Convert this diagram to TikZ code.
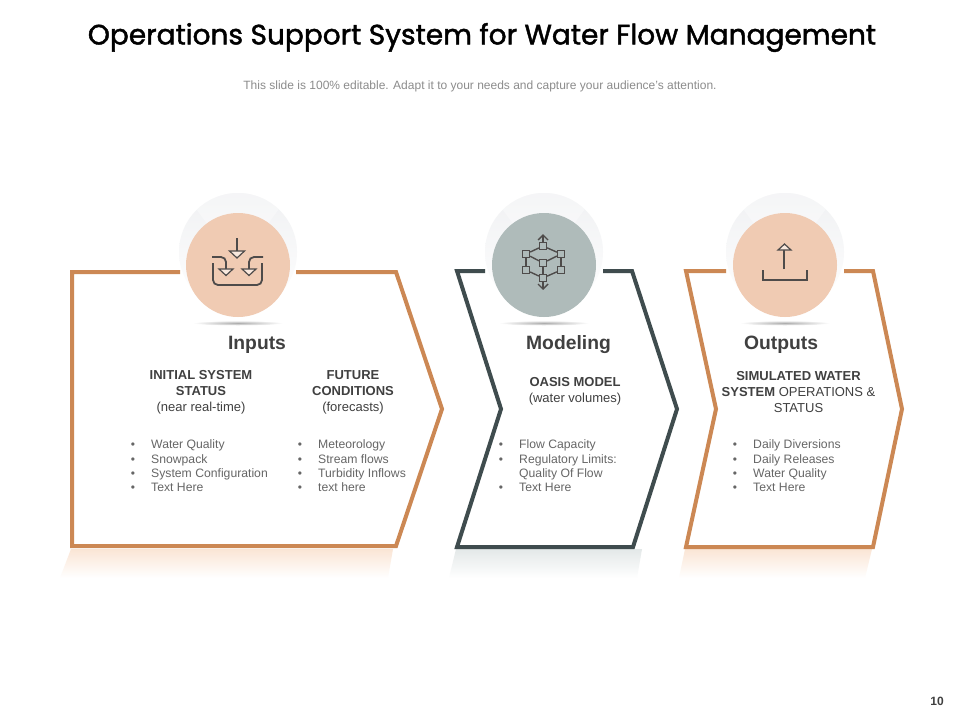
\documentclass[tikz,border=0pt]{standalone}
\usepackage{fontspec}
\setmainfont{Liberation Sans}
\newfontfamily\titlefont[FakeBold=1.6]{Poppins}
\definecolor{orangeline}{HTML}{CC8854}
\definecolor{darkline}{HTML}{3F4C4E}
\definecolor{peach}{HTML}{F0CBB3}
\definecolor{sage}{HTML}{AFBBBA}
\definecolor{icon}{HTML}{4E4B4A}
\definecolor{ghost}{HTML}{F0F1F3}
\definecolor{bodytext}{HTML}{666666}
\definecolor{headtext}{HTML}{404040}
\definecolor{tintorange}{HTML}{FAE5D5}
\definecolor{tintdark}{HTML}{E3E8E8}
\newcommand{\fs}[1]{\fontsize{#1}{#1}\selectfont}
\tikzset{
  x=1pt,y=-1pt,
  boxline/.style={line width=4pt,miter limit=10,line join=miter},
  disc/.style={circle,minimum size=104pt,inner sep=0pt},
  halo/.style={top color=ghost,middle color=ghost!45!white,bottom color=white,shading angle=0},
  floor/.style={inner color=black!32,outer color=white,draw=none},
  titletext/.style={text=black,font=\titlefont\fs{28}},
  subtext/.style={text=black!45,font=\fs{12}},
  stagehead/.style={text=headtext,font=\bfseries\fs{19.3}},
  blocktext/.style={text=headtext,font=\fs{13},align=center,inner sep=0pt},
  itemtext/.style={text=bodytext,font=\fs{12.2},anchor=base west,inner sep=0pt},
  dotmark/.style={text=bodytext,font=\fs{12},anchor=base,inner sep=0pt},
  iconline/.style={draw=icon,line width=1.8pt,line cap=butt},
  iconhead/.style={draw=icon,line width=1.2pt,fill=peach!45!white,line join=miter},
  cube/.style={draw=icon,line width=1.3pt,fill=sage,minimum size=7pt,inner sep=0pt,rectangle},
  cubeline/.style={draw=icon,line width=1.4pt},
}
\newcommand{\bul}[5]{%
  \node[dotmark] (#1d) at (#2,#4+4.5) {•};
  \node[itemtext] (#1t) at (#3,#4+4.5) {#5};}
\newcommand{\haloat}[1]{%
  \shade[halo] (#1,252) circle[radius=59];
  \begin{scope}
    \clip (#1,252) circle[radius=59];
    \fill[white,opacity=.35] (#1,265) -- (#1-56,190) -- (#1+62,180) -- cycle;
  \end{scope}}
\begin{document}
\begin{tikzpicture}
\useasboundingbox (0,0) rectangle (960,720);
\fill[white] (0,0) rectangle (960,720);

% reflections
\shade[top color=tintorange,bottom color=white] (71,549) -- (393,549) -- (388,578) -- (60,578) -- cycle;
\shade[top color=tintdark,bottom color=white] (456,549) -- (642,549) -- (637,578) -- (449,578) -- cycle;
\shade[top color=tintorange,bottom color=white] (685,549) -- (872,549) -- (865,578) -- (679,578) -- cycle;

% frames
\draw[boxline,orangeline] (296,272) -- (396,272) -- (442,409) -- (396,546) -- (72,546) -- (72,272) -- (180,272);
\draw[boxline,darkline] (603,271) -- (632,271) -- (677,409) -- (633,547) -- (457,547) -- (501,409) -- (457,271) -- (485,271);
\draw[boxline,orangeline] (844,271) -- (873,271) -- (902,409) -- (873,547) -- (686,547) -- (716,409) -- (686,271) -- (726,271);

% halos
\haloat{238}
\haloat{544}
\haloat{785}
% floor shadows
\shade[floor] (238,323) ellipse[x radius=45,y radius=2.5];
\shade[floor] (544,323) ellipse[x radius=45,y radius=2.5];
\shade[floor] (785,323) ellipse[x radius=45,y radius=2.5];
% discs
\node[disc,fill=peach] (inputsdisc) at (238,265) {};
\node[disc,fill=sage] (modelingdisc) at (544,265) {};
\node[disc,fill=peach] (outputsdisc) at (785,265) {};

% inputs icon
\draw[iconline] (237,238) -- (237,251);
\draw[iconhead] (229.5,251) -- (244.5,251) -- (237,258) -- cycle;
\draw[iconline,rounded corners=5pt] (213,263) -- (213,285) -- (262,285) -- (262,263);
\draw[iconline,rounded corners=5pt] (212,257) -- (226,257) -- (226,269);
\draw[iconline,rounded corners=5pt] (263,257) -- (249,257) -- (249,269);
\draw[iconhead] (219,269) -- (233,269) -- (226,275.5) -- cycle;
\draw[iconhead] (242,269) -- (256,269) -- (249,275.5) -- cycle;

% modeling icon
\coordinate (cup) at (543,235);
\coordinate (cdown) at (543,289);
\node[cube] (ct) at (543,246) {};
\node[cube] (cl) at (526,254) {};
\node[cube] (cr) at (561,254) {};
\node[cube] (cc) at (543,263) {};
\node[cube] (cp) at (526,270) {};
\node[cube] (cq) at (561,270) {};
\node[cube] (cb) at (543,278) {};
\draw[cubeline] (ct) -- (cl);
\draw[cubeline] (ct) -- (cr);
\draw[cubeline] (cl) -- (cc);
\draw[cubeline] (cr) -- (cc);
\draw[cubeline] (cc) -- (cb);
\draw[cubeline] (cl) -- (cp);
\draw[cubeline] (cr) -- (cq);
\draw[cubeline] (cp) -- (cb);
\draw[cubeline] (cq) -- (cb);
\draw[cubeline] (ct) -- (cup);
\draw[cubeline] (cb) -- (cdown);
\draw[cubeline] (538,240) -- (cup) -- (548,240);
\draw[cubeline] (538,284) -- (cdown) -- (548,284);

% outputs icon
\draw[iconline] (784,269) -- (784,250);
\draw[iconhead] (778,250) -- (791,250) -- (784.5,244) -- cycle;
\draw[iconline,line join=miter] (763,270) -- (763,280) -- (807,280) -- (807,270);

% text
\node[titletext] (title) at (482,37.5) {Operations Support System for Water Flow Management};
\node[subtext] (subtitle) at (480,86) {This slide is 100\% editable. Adapt it to your needs and capture your audience's attention.};
\node[stagehead] (inputslabel) at (257,344.5) {Inputs};
\node[stagehead] (modelinglabel) at (568.5,344.5) {Modeling};
\node[stagehead] (outputslabel) at (781,344.5) {Outputs};

\node[blocktext] (initial) at (201,392.5) {\textbf{INITIAL SYSTEM}\\[3pt]\textbf{STATUS}\\[3pt](near real-time)};
\node[blocktext] (future) at (353,392.5) {\textbf{FUTURE}\\[3pt]\textbf{CONDITIONS}\\[3pt](forecasts)};
\node[blocktext] (oasis) at (575,391.5) {\textbf{OASIS MODEL}\\[3pt](water volumes)};
\node[blocktext] (simulated) at (798.5,392.5) {\textbf{SIMULATED WATER}\\[3pt]\textbf{SYSTEM} OPERATIONS \&\\[3pt]STATUS};

\bul{a}{133}{151}{444}{Water Quality}
\bul{b}{133}{151}{458.5}{Snowpack}
\bul{c}{133}{151}{472.5}{System Configuration}
\bul{e}{133}{151}{487}{Text Here}
\bul{f}{300}{318}{444}{Meteorology}
\bul{g}{300}{318}{458.5}{Stream flows}
\bul{h}{300}{318}{472.5}{Turbidity Inflows}
\bul{i}{300}{318}{487}{text here}
\bul{j}{501}{519}{444}{Flow Capacity}
\bul{k}{501}{519}{458.5}{Regulatory Limits:}
\node[itemtext] (kcont) at (519,477) {Quality Of Flow};
\bul{m}{501}{519}{487}{Text Here}
\bul{n}{735}{753}{444}{Daily Diversions}
\bul{o}{735}{753}{458.5}{Daily Releases}
\bul{p}{735}{753}{472.5}{Water Quality}
\bul{q}{735}{753}{487}{Text Here}

\node[text=headtext,font=\bfseries\fs{12}] (pagenum) at (937,701) {10};
\end{tikzpicture}
\end{document}
